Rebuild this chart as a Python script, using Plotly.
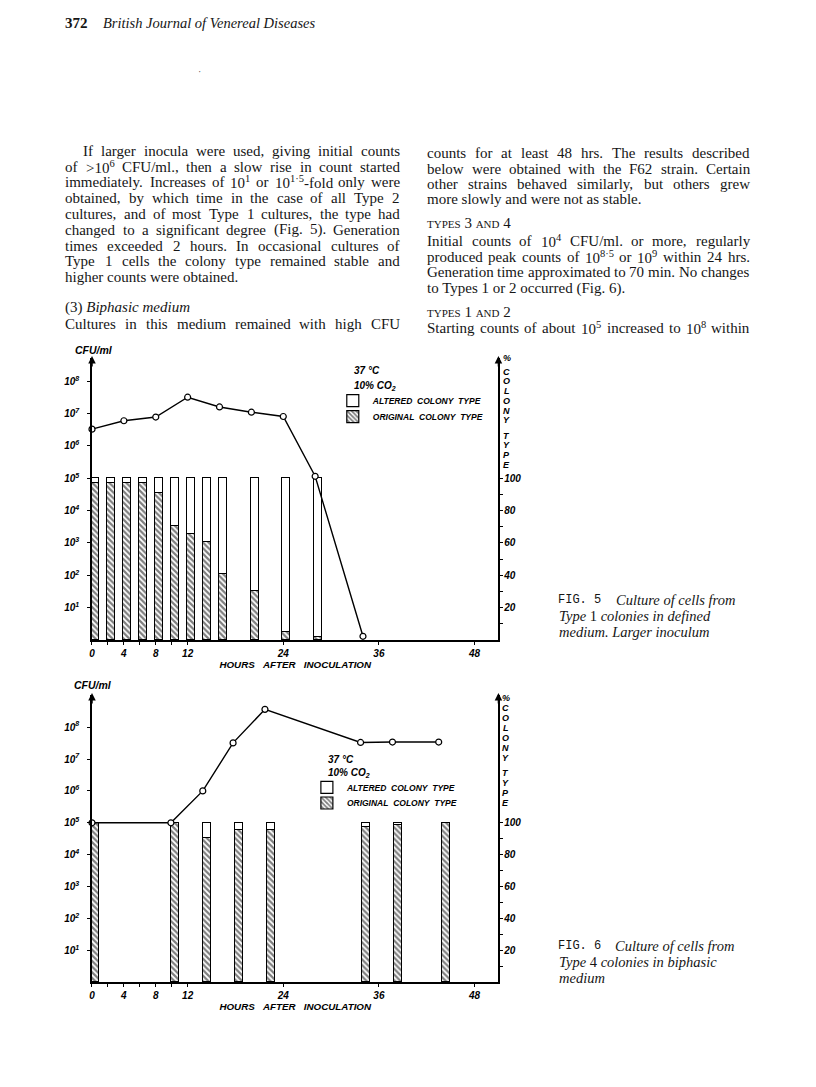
import re
import plotly.graph_objects as go

# page is drawn inside the browser's default 8px body margin
OFF = 8
W, H = 800, 1071

# ---------------- data ----------------
# Fig. 5
f5_line_hours = [0, 4, 8, 12, 16, 20, 24, 28, 34]
f5_cfu = [3.3e6, 6.0e6, 7.8e6, 3.2e7, 1.6e7, 1.1e7, 8.1e6, 1.15e5, 1.3]
f5_bar_hours = [0, 2, 4, 6, 8, 10, 12, 14, 16, 20, 24, 28]
f5_original_pct = [97, 97, 97, 97, 90.7, 70.5, 65.6, 60.6, 40.6, 30.5, 4.9, 2.1]
f5_altered_pct = [round(100 - v, 1) for v in f5_original_pct]

# Fig. 6
f6_line_hours = [0, 9.9, 13.9, 17.7, 21.7, 33.7, 37.7, 43.5]
f6_cfu = [1e5, 1e5, 1.0e6, 3.2e7, 3.6e8, 3.3e7, 3.4e7, 3.4e7]
f6_bar_hours = [0, 10, 14, 18, 22, 34, 38, 44]
f6_original_pct = [100, 100, 90.2, 95.2, 95.2, 97.5, 98.5, 100]
f6_altered_pct = [round(100 - v, 1) for v in f6_original_pct]

x_ticks = [0, 2, 4, 6, 8, 10, 12, 24, 36, 48]
x_tick_labels = ['0', '', '4', '', '8', '', '12', '24', '36', '48']
cfu_exponents = [1, 2, 3, 4, 5, 6, 7, 8]
cfu_ticks = [10 ** k for k in cfu_exponents]
cfu_tick_labels = ['10<sup>%d</sup>' % k for k in cfu_exponents]
pct_ticks = [20, 40, 60, 80, 100]
pct_minor_ticks = [10, 30, 50, 70, 90]

legend_altered = 'ALTERED&nbsp;&nbsp;COLONY&nbsp;&nbsp;TYPE'
legend_original = 'ORIGINAL&nbsp;&nbsp;COLONY&nbsp;&nbsp;TYPE'

SC = "<span style='font-size:11px'>%s</span>"
# (text, x-left, y, justified?)
left_col = [
    ("If larger inocula were used, giving initial counts", 80.0, 151.0, True),
    ("of &gt;10<sup>6</sup> CFU/ml., then a slow rise in count started", 62.7, 166.8, True),
    ("immediately. Increases of 10<sup>1</sup> or 10<sup>1·5</sup>-fold only were", 62.7, 182.5, True),
    ("obtained, by which time in the case of all Type 2", 62.7, 198.3, True),
    ("cultures, and of most Type 1 cultures, the type had", 62.7, 214.0, True),
    ("changed to a significant degree (Fig. 5). Generation", 62.7, 229.8, True),
    ("times exceeded 2 hours. In occasional cultures of", 62.7, 245.5, True),
    ("Type 1 cells the colony type remained stable and", 62.7, 261.3, True),
    ("higher counts were obtained.", 62.7, 277.0, False),
    ("(3) <i>Biphasic medium</i>", 62.7, 307.7, False),
    ("Cultures in this medium remained with high CFU", 62.7, 324.3, True),
]
LEFT_RIGHT_EDGE = 398.3
right_col = [
    ("counts for at least 48 hrs. The results described", 425.7, 153.3, True),
    ("below were obtained with the F62 strain. Certain", 425.7, 168.6, True),
    ("other strains behaved similarly, but others grew", 425.7, 184.0, True),
    ("more slowly and were not as stable.", 425.7, 199.4, False),
    (SC % "TYPES" + " 3 " + SC % "AND" + " 4", 425.7, 223.3, False),
    ("Initial counts of 10<sup>4</sup> CFU/ml. or more, regularly", 425.7, 241.0, True),
    ("produced peak counts of 10<sup>8·5</sup> or 10<sup>9</sup> within 24 hrs.", 425.7, 256.7, True),
    ("Generation time approximated to 70 min. No changes", 425.7, 272.3, True),
    ("to Types 1 or 2 occurred (Fig. 6).", 425.7, 288.3, False),
    (SC % "TYPES" + " 1 " + SC % "AND" + " 2", 425.7, 311.7, False),
    ("Starting counts of about 10<sup>5</sup> increased to 10<sup>8</sup> within", 425.7, 327.7, True),
]
RIGHT_RIGHT_EDGE = 749.3

# ---------------- geometry (page pixels) ----------------
X0, X1 = 89.3, 497.3
PX_PER_HOUR = 8.0
x_range = [0, (X1 - X0) / PX_PER_HOUR]

P5_BASE, P5_DEC, P5_TOP = 640.0, 32.35, 358.0
P6_BASE, P6_DEC, P6_TOP = 982.3, 31.9, 695.0

def px(p):
    return (p - OFF) / W

def py(p):
    return 1 - (p - OFF) / H

f5_logtop = (P5_BASE - P5_TOP) / P5_DEC
f6_logtop = (P6_BASE - P6_TOP) / P6_DEC

INK = 'black'
TEXT_INK = '#151515'
TICKFONT = dict(family='Liberation Sans', size=10, color=INK, weight='bold', style='italic')
LBLFONT = dict(family='Liberation Sans', size=9, color=INK, weight='bold', style='italic')
BODY_SIZE = 15
TEXTFONT = dict(family='Liberation Serif', size=BODY_SIZE, color=TEXT_INK)

# Times metrics (per 1000 em) for justification
TIMES = {' ': 250, '!': 333, '"': 408, '#': 500, '$': 500, '%': 833, '&': 778, "'": 333, '(': 333,
         ')': 333, '*': 500, '+': 564, ',': 250, '-': 333, '.': 250, '/': 278, ':': 278, ';': 278,
         '<': 564, '=': 564, '>': 564, '?': 444, '·': 250,
         'A': 722, 'B': 667, 'C': 667, 'D': 722, 'E': 611, 'F': 556, 'G': 722, 'H': 722, 'I': 333,
         'J': 389, 'K': 722, 'L': 611, 'M': 889, 'N': 722, 'O': 722, 'P': 556, 'Q': 722, 'R': 667,
         'S': 556, 'T': 611, 'U': 722, 'V': 722, 'W': 944, 'X': 722, 'Y': 722, 'Z': 611,
         'a': 444, 'b': 500, 'c': 444, 'd': 500, 'e': 444, 'f': 333, 'g': 500, 'h': 500, 'i': 278,
         'j': 278, 'k': 500, 'l': 278, 'm': 778, 'n': 500, 'o': 500, 'p': 500, 'q': 500, 'r': 333,
         's': 389, 't': 278, 'u': 500, 'v': 500, 'w': 722, 'x': 500, 'y': 500, 'z': 444}
for d in '0123456789':
    TIMES[d] = 500

def plain_w(s, size):
    return sum(TIMES.get(c, 500) for c in s) * size / 1000.0

def word_w(word, size):
    w = word.replace('&gt;', '>')
    total = 0.0
    for part in re.split(r'(<sup>.*?</sup>)', w):
        if part.startswith('<sup>'):
            total += plain_w(part[5:-6], size * 0.7)
        else:
            total += plain_w(re.sub(r'<[^>]+>', '', part), size)
    return total

fig = go.Figure()

def add_panel(bar_hours, orig, alt, line_hours, cfu, xa, ypct, ylog, leg_orig, leg_alt):
    fig.add_trace(go.Bar(
        x=bar_hours, y=orig, name=legend_original, xaxis=xa, yaxis=ypct,
        width=1.0, offset=-0.1, legend=leg_orig,
        marker=dict(color='white', line=dict(color=INK, width=1.2),
                    pattern=dict(shape='\\', fgcolor=INK, bgcolor='white', size=4, solidity=0.55)),
    ))
    fig.add_trace(go.Bar(
        x=bar_hours, y=alt, name=legend_altered, xaxis=xa, yaxis=ypct,
        width=1.0, offset=-0.1, legend=leg_alt,
        marker=dict(color='white', line=dict(color=INK, width=1.2)),
    ))
    fig.add_trace(go.Scatter(
        x=line_hours, y=cfu, xaxis=xa, yaxis=ylog, mode='lines+markers', showlegend=False,
        line=dict(color=INK, width=1.4),
        marker=dict(symbol='circle', size=6, color='white', line=dict(color=INK, width=1.2)),
        cliponaxis=False,
    ))

add_panel(f5_bar_hours, f5_original_pct, f5_altered_pct, f5_line_hours, f5_cfu, 'x', 'y', 'y2', 'legend', 'legend2')
add_panel(f6_bar_hours, f6_original_pct, f6_altered_pct, f6_line_hours, f6_cfu, 'x2', 'y3', 'y4', 'legend3', 'legend4')

xdom = [px(X0), px(X1)]
d5 = [py(P5_BASE), py(P5_TOP)]
d6 = [py(P6_BASE), py(P6_TOP)]

def xaxis_def(anchor):
    return dict(domain=xdom, range=x_range, anchor=anchor, showline=True, linecolor=INK, linewidth=1.5,
                ticks='outside', ticklen=3, tickwidth=1.2, tickcolor=INK,
                tickvals=x_ticks, ticktext=x_tick_labels, tickfont=TICKFONT,
                showgrid=False, zeroline=False, fixedrange=True,
                title=dict(text='HOURS&nbsp;&nbsp;&nbsp;AFTER&nbsp;&nbsp;&nbsp;INOCULATION',
                           font=dict(family='Liberation Sans', size=9.8, color=INK, weight='bold', style='italic'),
                           standoff=2))

def pct_axis(anchor, dom, top):
    return dict(domain=dom, range=[0, top], anchor=anchor, side='right', showline=True, linecolor=INK,
                linewidth=1.5, ticks='outside', ticklen=3, tickwidth=1.2, tickcolor=INK,
                tickvals=pct_ticks, tickfont=TICKFONT, showgrid=False, zeroline=False,
                ticklabelstandoff=-1,
                minor=dict(tickvals=pct_minor_ticks, ticks='outside', ticklen=3, tickcolor=INK, tickwidth=1.2),
                fixedrange=True)

def log_axis(anchor, over, top):
    return dict(type='log', range=[0, top], anchor=anchor, overlaying=over, side='left', showline=True,
                linecolor=INK, linewidth=1.5, ticks='outside', ticklen=3, tickwidth=1.2, tickcolor=INK,
                tickvals=cfu_ticks, ticktext=cfu_tick_labels, tickfont=TICKFONT, ticklabelstandoff=6,
                showgrid=False, zeroline=False, fixedrange=True)

legend_common = dict(xanchor='left', yanchor='middle', bgcolor='rgba(0,0,0,0)', borderwidth=0,
                     font=dict(family='Liberation Sans', size=8.5, color=INK, weight='bold', style='italic'),
                     itemwidth=30, itemclick=False, itemdoubleclick=False)

fig.update_layout(
    width=W, height=H, autosize=False,
    margin=dict(l=0, r=0, t=0, b=0),
    paper_bgcolor='white', plot_bgcolor='rgba(0,0,0,0)',
    barmode='stack', bargap=0,
    xaxis=xaxis_def('y'),
    yaxis=pct_axis('x', d5, f5_logtop * 20),
    yaxis2=log_axis('x', 'y', f5_logtop),
    xaxis2=xaxis_def('y3'),
    yaxis3=pct_axis('x2', d6, f6_logtop * 20),
    yaxis4=log_axis('x2', 'y3', f6_logtop),
    legend=dict(legend_common, x=px(331), y=py(416.7)),
    legend2=dict(legend_common, x=px(331), y=py(400.7)),
    legend3=dict(legend_common, x=px(305), y=py(803)),
    legend4=dict(legend_common, x=px(305), y=py(787.3)),
    showlegend=True,
)

ann = []

def txt(text, x, y, font, xanchor='left', yanchor='middle'):
    ann.append(dict(text=text, x=px(x), y=py(y), xref='paper', yref='paper', xanchor=xanchor,
                    yanchor=yanchor, showarrow=False, font=font, borderpad=0, borderwidth=0))

def body_line(text, x_left, x_right, y, justify):
    if not justify:
        txt(text, x_left, y, TEXTFONT)
        return
    words = text.split(' ')
    widths = [word_w(w, BODY_SIZE) for w in words]
    gap = (x_right - x_left - sum(widths)) / (len(words) - 1)
    x = x_left
    for wd, ww in zip(words, widths):
        txt(wd, x, y, TEXTFONT)
        x += ww + gap

# axis arrows
for xa, x_at, top in [('x', 0, P5_TOP), ('x', x_range[1], P5_TOP), ('x2', 0, P6_TOP), ('x2', x_range[1], P6_TOP)]:
    ann.append(dict(text='', x=x_at, y=py(top - 2), xref=xa, yref='paper', showarrow=True,
                    ax=0, ay=12, arrowhead=2, arrowsize=1, arrowwidth=1.5, arrowcolor=INK))

CHARTFONT = dict(family='Liberation Sans', size=10, color=INK, weight='bold', style='italic')
txt('CFU/ml', 72, 350, dict(CHARTFONT, size=10.5))
txt('CFU/ml', 71, 684.5, dict(CHARTFONT, size=10.5))

letters = ['%', 'C', 'O', 'L', 'O', 'N', 'Y', 'T', 'Y', 'P', 'E']
def vertical(xc, y_pct, y_c, step, gap):
    ys = [y_pct, y_c]
    for i in range(2, len(letters)):
        ys.append(ys[-1] + step + (gap if i == 7 else 0))
    for L, yy in zip(letters, ys):
        txt(L, xc, yy, LBLFONT, xanchor='center')
vertical(505.7, 358.5, 371.7, 9.7, 5.8)
vertical(504.5, 697.7, 708.3, 10.0, 5.0)

txt('37 °C', 352, 370.7, CHARTFONT)
txt('10% CO<sub>2</sub>', 352, 385.7, CHARTFONT)
txt('37 °C', 326, 759, CHARTFONT)
txt('10% CO<sub>2</sub>', 326, 773.3, CHARTFONT)

# header
txt('<b>372</b>', 62.5, 23, dict(family='Liberation Serif', size=15, color=TEXT_INK))
txt('<i>British Journal of Venereal Diseases</i>', 100, 23, dict(family='Liberation Serif', size=14.5, color=TEXT_INK))
txt('·', 196, 71, dict(family='Liberation Serif', size=10, color='#555'))

for text, xl, yy, j in left_col:
    body_line(text, xl, LEFT_RIGHT_EDGE, yy, j)
for text, xl, yy, j in right_col:
    body_line(text, xl, RIGHT_RIGHT_EDGE, yy, j)

FIGFONT = dict(family='Liberation Mono', size=12, color=TEXT_INK)
CAPFONT = dict(family='Liberation Serif', size=14.5, color=TEXT_INK)
txt('FIG. 5', 557, 600, FIGFONT)
txt('<i>Culture of cells from</i>', 615, 600, CAPFONT)
txt('<i>Type</i> 1 <i>colonies in defined</i>', 557.7, 615.8, CAPFONT)
txt('<i>medium. Larger inoculum</i>', 557.7, 631.5, CAPFONT)
txt('FIG. 6', 557, 946, FIGFONT)
txt('<i>Culture of cells from</i>', 614, 946, CAPFONT)
txt('<i>Type</i> 4 <i>colonies in biphasic</i>', 557.7, 962.3, CAPFONT)
txt('<i>medium</i>', 557.7, 978, CAPFONT)

fig.update_layout(annotations=ann)

fig.write_html('out.html')
